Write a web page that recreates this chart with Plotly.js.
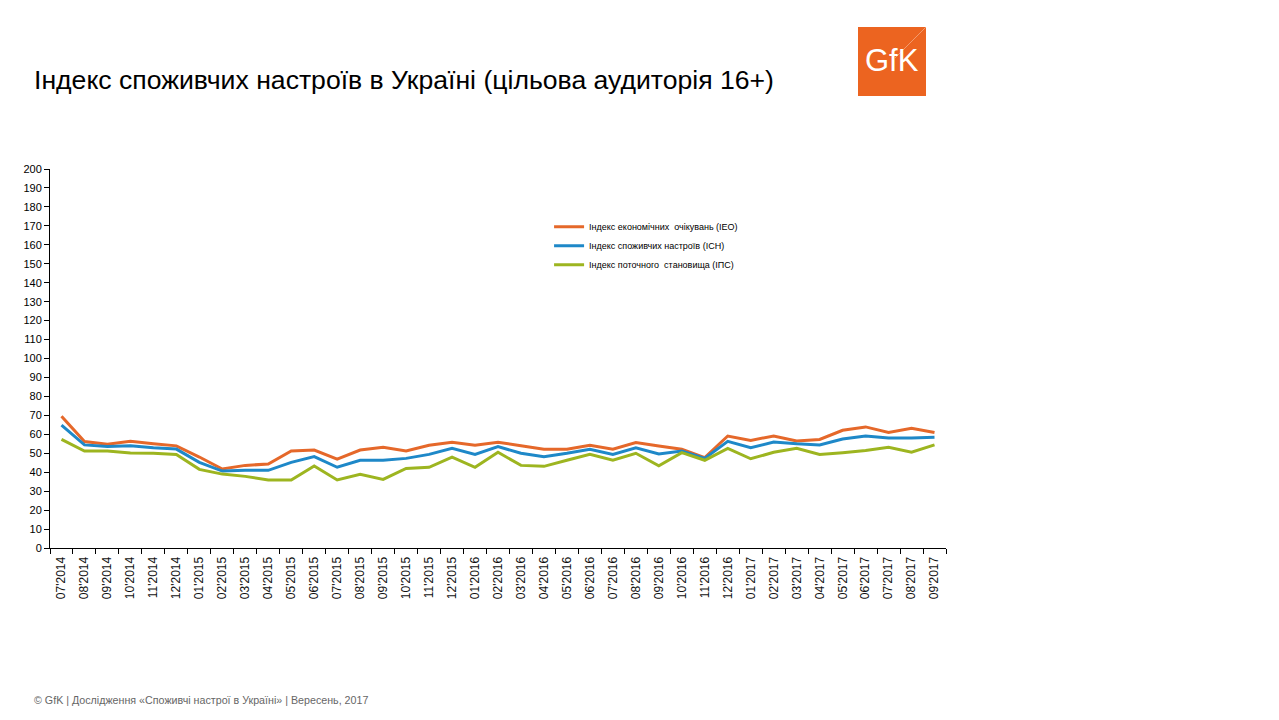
<!DOCTYPE html>
<html>
<head>
<meta charset="utf-8">
<script src="https://cdn.plot.ly/plotly-3.0.1.min.js"></script>
<style>html,body{margin:0;padding:0;background:#fff;}#chart{width:1279px;height:720px;}</style>
</head>
<body>
<div id="chart"></div>
<script>
const months = ["07'2014","08'2014","09'2014","10'2014","11'2014","12'2014","01'2015","02'2015","03'2015","04'2015","05'2015","06'2015","07'2015","08'2015","09'2015","10'2015","11'2015","12'2015","01'2016","02'2016","03'2016","04'2016","05'2016","06'2016","07'2016","08'2016","09'2016","10'2016","11'2016","12'2016","01'2017","02'2017","03'2017","04'2017","05'2017","06'2017","07'2017","08'2017","09'2017"];
const ieo = [69.5,56.2,54.8,56.3,55.0,53.9,48.0,41.7,43.6,44.3,51.2,51.7,46.9,51.7,53.1,51.2,54.2,55.8,54.2,55.8,54.0,52.1,52.1,54.2,52.1,55.6,53.8,52.1,47.7,59.1,56.8,59.1,56.5,57.3,62.1,63.9,61.0,63.2,61.0];
const ich = [64.9,54.4,53.5,54.0,52.9,52.2,45.2,40.6,41.0,41.0,45.2,48.2,42.6,46.3,46.3,47.3,49.4,52.6,49.4,53.5,50.0,48.2,50.0,52.1,49.4,52.9,49.6,51.2,47.3,56.3,52.9,55.9,55.0,54.4,57.5,59.1,58.0,58.0,58.4];
const ips = [57.3,51.2,51.2,50.1,50.0,49.4,41.5,39.0,37.8,35.9,35.9,43.3,35.9,38.9,36.2,42.0,42.6,47.9,42.6,50.5,43.6,43.1,46.3,49.4,46.3,50.0,43.4,50.3,46.3,52.6,47.1,50.5,52.6,49.4,50.3,51.4,53.1,50.5,54.4];
const seriesNames = ["Індекс економічних  очікувань (IEO)","Індекс споживчих настроїв (ICH)","Індекс поточного  становища (ІПС)"];
const yTicks = [0,10,20,30,40,50,60,70,80,90,100,110,120,130,140,150,160,170,180,190,200];

const colors = ["#E5682A","#1E88C8","#9DB520"];
const font = "Arial, 'Liberation Sans', sans-serif";

const traces = [ieo, ich, ips].map((vals, i) => ({
  type: 'scatter', mode: 'lines', x: months, y: vals, name: seriesNames[i],
  line: {color: colors[i], width: 3}, hoverinfo: 'skip'
}));

const layout = {
  width: 1279, height: 720,
  margin: {l: 50, r: 333, t: 169, b: 172},
  paper_bgcolor: '#fff', plot_bgcolor: '#fff',
  font: {family: font, color: '#000'},
  title: {text: 'Індекс споживчих настроїв в Україні (цільова аудиторія 16+)',
    xref: 'container', yref: 'container', x: 34/1279, xanchor: 'left', y: 1 - 80/720, yanchor: 'middle',
    font: {family: font, size: 26.6, color: '#000'}},
  showlegend: true,
  legend: {x: 0.557, y: 0.886, xanchor: 'left', yanchor: 'top', bgcolor: 'rgba(0,0,0,0)',
    font: {family: font, size: 9, color: '#000'}, itemwidth: 30, tracegroupgap: 0},
  xaxis: {type: 'category', categoryorder: 'array', categoryarray: months,
    range: [-0.5, months.length - 0.5], tickson: 'boundaries', ticks: 'outside', ticklen: 5, tickcolor: '#000',
    showline: true, linecolor: '#000', linewidth: 1, showgrid: false, zeroline: false, ticklabelstandoff: 3,
    tickangle: -90, tickfont: {family: font, size: 12, color: '#111'}, fixedrange: true},
  yaxis: {range: [0, 200], tickmode: 'array', tickvals: yTicks, ticktext: yTicks.map(String),
    ticks: 'outside', ticklen: 5, tickcolor: '#000', showline: true, linecolor: '#000', linewidth: 1,
    showgrid: false, zeroline: false, tickfont: {family: font, size: 11, color: '#000'}, fixedrange: true},
  shapes: [
    {type: 'rect', xref: 'paper', yref: 'paper', x0: (858-50)/896, x1: (926-50)/896, y0: (548-96)/379, y1: (548-27)/379,
     fillcolor: '#EC6420', line: {width: 0}, layer: 'above'},
    {type: 'line', xref: 'paper', yref: 'paper', x0: (895-50)/896, x1: (926-50)/896, y0: (548-58)/379, y1: (548-27)/379,
     line: {color: 'rgba(255,255,255,0.35)', width: 1}}
  ],
  annotations: [
    {text: 'GfK', xref: 'paper', yref: 'paper', x: (892-50)/896, y: (548-61)/379, xanchor: 'center', yanchor: 'middle',
     showarrow: false, font: {family: font, size: 31, color: '#fff'}},
    {text: '© GfK | Дослідження «Споживчі настрої в Україні» | Вересень, 2017', xref: 'paper', yref: 'paper',
     x: (32-50)/896, y: (548-700)/379, xanchor: 'left', yanchor: 'middle', showarrow: false,
     font: {family: font, size: 10.7, color: '#666'}}
  ]
};

Plotly.newPlot('chart', traces, layout, {displayModeBar: false, staticPlot: true});
</script>
</body>
</html>
